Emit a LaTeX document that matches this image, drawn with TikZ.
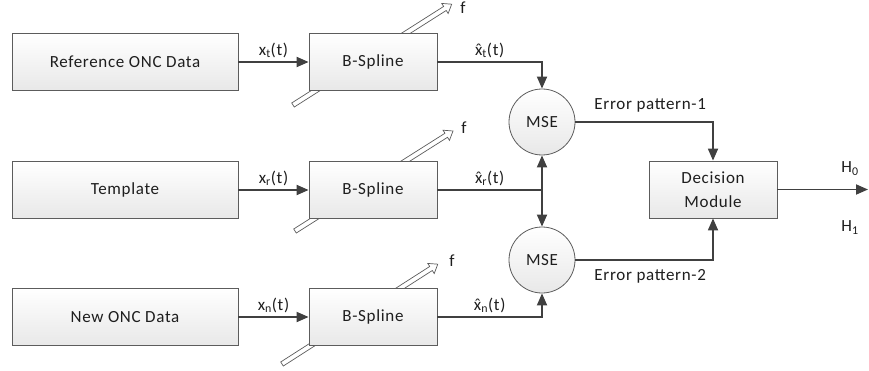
\documentclass[tikz,border=0pt]{standalone}
\usepackage{fontspec}
\setmainfont{Carlito}[LetterSpace=4]
\usetikzlibrary{arrows.meta,calc}
\definecolor{linec}{HTML}{404040}
\definecolor{edgec}{HTML}{5C5C5C}
\definecolor{textc}{HTML}{1E1E1E}
\definecolor{shadeb}{HTML}{E8E8E8}
% x with a circumflex set over it
\newcommand{\xhat}{\leavevmode\ooalign{x\cr\hidewidth\raisebox{-0.1ex}{ˆ}\hidewidth\cr}}
\tikzset{
  datablock/.style={draw=edgec, line width=0.8pt, top color=white, bottom color=shadeb,
    minimum width=226pt, minimum height=57pt, inner sep=0pt},
  procblock/.style={draw=edgec, line width=0.8pt, top color=white, bottom color=shadeb,
    minimum width=128pt, minimum height=57pt, inner sep=0pt},
  msenode/.style={circle, draw=edgec, line width=0.8pt, top color=white, bottom color=shadeb,
    minimum size=66pt, inner sep=0pt},
  wire/.style={draw=linec, line width=1.8pt},
  conn/.style={wire, -{Triangle[length=12pt,width=10pt]}},
  % hollow parameter arrow, drawn along +x with the given length
  pics/hollow/.style={code={
    \draw[draw=edgec, line width=0.7pt, fill=white, line join=miter]
      (0,-2.4) -- ({#1-8},-2.4) -- ({#1-8},-6) -- (#1,0) -- ({#1-8},6)
      -- ({#1-8},2.4) -- (0,2.4) -- cycle;
  }}
}
\begin{document}
\begin{tikzpicture}[x=1pt,y=1pt, font=\fontsize{17}{20}\selectfont, text=textc]
\useasboundingbox (0,0) rectangle (869,370);

% input data blocks
\node[datablock] (ref)  at (125,308) {Reference ONC Data};
\node[datablock] (tmpl) at (125,180) {Template};
\node[datablock] (new)  at (125,53)  {New ONC Data};

% knot / parameter arrows passing behind the B-spline blocks
\pic[rotate=32.43] at (293,265) {hollow=188};
\pic[rotate=32.33] at (295,139) {hollow=187};
\pic[rotate=32.66] at (282,6)   {hollow=185};

% B-spline blocks
\node[procblock] (bs1) at (373,308) {B-Spline};
\node[procblock] (bs2) at (373,180) {B-Spline};
\node[procblock] (bs3) at (373,53)  {B-Spline};

\node (f1) at (463,362) {f};
\node (f2) at (464,242) {f};
\node (f3) at (452,109) {f};

% error estimators and decision stage
\node[msenode] (mse1) at (542,248) {MSE};
\node[msenode] (mse2) at (542,110) {MSE};
\node[procblock, align=center, font=\fontsize{17}{24}\selectfont] (dec) at (713,180.5) {Decision\\Module};

% signal flow
\draw[conn] (ref)  -- node[above] {x\textsubscript{t}(t)} (bs1);
\draw[conn] (tmpl) -- node[above] {x\textsubscript{r}(t)} (bs2);
\draw[conn] (new)  -- node[above] {x\textsubscript{n}(t)} (bs3);

\draw[conn] (bs1.east) -| node[pos=0.25, above] {\xhat\textsubscript{t}(t)} (mse1.north);
\coordinate (jr) at (bs2.east -| mse1.center);
\draw[wire] (bs2.east) -- node[above] {\xhat\textsubscript{r}(t)} (jr);
\draw[conn] (jr) -- (mse1.south);
\draw[conn] (jr) -- (mse2.north);
\draw[conn] (bs3.east) -| node[pos=0.25, above] {\xhat\textsubscript{n}(t)} (mse2.south);

\draw[conn] (mse1.east) -| node[pos=0.25, above=6pt, xshift=6pt] {Error pattern-1} (dec.north);
\draw[conn] (mse2.east) -| node[pos=0.25, below=5pt, xshift=6pt] {Error pattern-2} (dec.south);

\coordinate (out) at (868,180.5);
\draw[conn] (dec.east) -- (out);
\node (h0) at ($(out)+(-18,21)$) {H\textsubscript{0}};
\node (h1) at ($(out)+(-18,-38)$) {H\textsubscript{1}};
\end{tikzpicture}
\end{document}
